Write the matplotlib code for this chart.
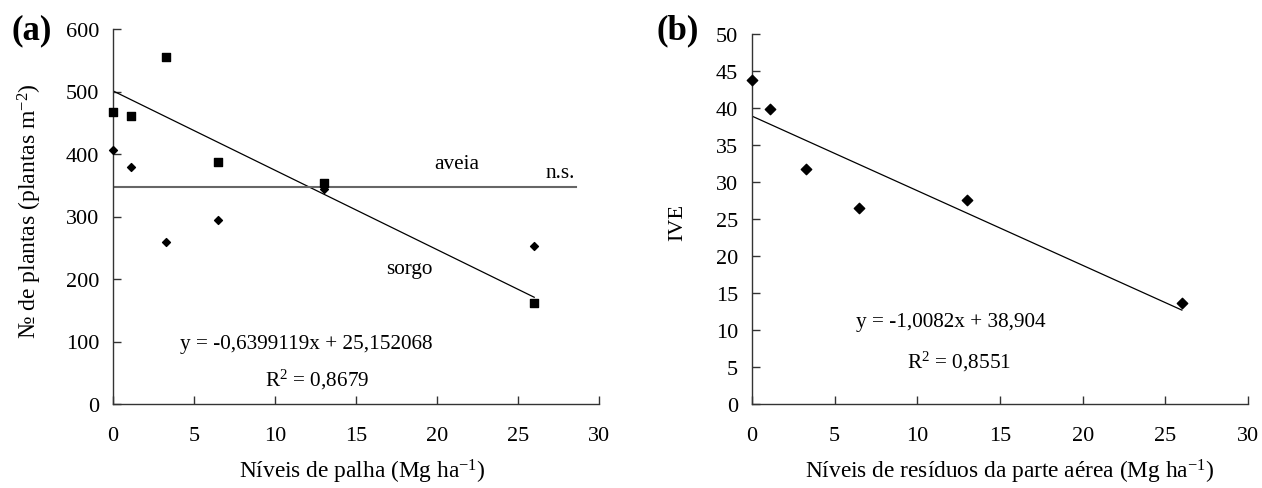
import matplotlib
matplotlib.use("Agg")
import matplotlib.pyplot as plt
import numpy as np

plt.rcParams['font.family'] = ['Liberation Serif', 'DejaVu Serif']
plt.rcParams['mathtext.default'] = 'regular'

# Panel (a)
xa = [0, 1.1, 3.25, 6.5, 13, 26]
sorgo = [467, 461, 555, 387, 354, 161]
aveia = [407, 380, 259, 294, 344, 253]
sorgo_int, sorgo_slope = 501, -12.7
aveia_mean = 348
aveia_line_x = [0, 28.6]

# Panel (b)
xb = [0, 1.1, 3.25, 6.5, 13, 26]
ive = [43.8, 39.8, 31.7, 26.5, 27.6, 13.6]
ive_int, ive_slope = 38.904, -1.0082

fig = plt.figure(figsize=(12.62, 4.89), dpi=100)
axa = fig.add_axes([113/1262, 1-405/489, (599-113)/1262, (405-30)/489])
axb = fig.add_axes([752/1262, 1-405/489, (1248-752)/1262, (405-35)/489])

tfs = 16
xfs = 16.8
afs = 15.3
for ax in (axa, axb):
    ax.spines['top'].set_visible(False)
    ax.spines['right'].set_visible(False)
    for s in ('left', 'bottom'):
        ax.spines[s].set_color('#333333')
        ax.spines[s].set_linewidth(1.0)
    ax.set_xlim(0, 30)
    ax.set_xticks([0, 5, 10, 15, 20, 25, 30])
    ax.tick_params(axis='both', direction='in', length=6, width=1, color='#333333', labelsize=tfs)
    ax.tick_params(axis='x', pad=16)
    ax.tick_params(axis='y', pad=10)

# (a)
axa.set_ylim(0, 600)
axa.set_yticks(range(0, 601, 100))
axa.scatter(xa, sorgo, marker='s', s=30, color='black', zorder=3, clip_on=False)
axa.scatter(xa, aveia, marker='D', s=16, color='black', zorder=3, clip_on=False)
xl = np.array([0, 26])
axa.plot(xl, sorgo_int + sorgo_slope * xl, color='black', lw=0.9)
axa.plot(aveia_line_x, [aveia_mean, aveia_mean], color='#666666', lw=1.5)
axa.text(21.2, 384, 'aveia', fontsize=afs, ha='center', va='center')
axa.text(27.6, 371, 'n.s.', fontsize=afs, ha='center', va='center')
axa.text(18.3, 216, 'sorgo', fontsize=afs, ha='center', va='center')
axa.text(11.9, 96, 'y = -0,6399119x + 25,152068', fontsize=afs, ha='center', va='center')
axa.text(12.6, 40, 'R$^{2}$ = 0,8679', fontsize=afs, ha='center', va='center')
yl = axa.set_ylabel('№ de plantas (plantas m$^{-2}$)', fontsize=17)
yl.set_verticalalignment('center')
axa.yaxis.set_label_coords((30-113)/486, (405-211)/375)
xla = axa.set_xlabel('Níveis de palha (Mg ha$^{-1}$)', fontsize=xfs)
xla.set_verticalalignment('center')
axa.xaxis.set_label_coords((362-113)/486, (405-472)/375)
fig.text(32/1262, 1-31/489, '(a)', fontsize=25, fontweight='bold', ha='center', va='center')

# (b)
axb.set_ylim(0, 50)
axb.set_yticks(range(0, 51, 5))
axb.scatter(xb, ive, marker='D', s=28, color='black', zorder=3, clip_on=False)
axb.plot(xl, ive_int + ive_slope * xl, color='black', lw=0.9)
axb.text(12.0, 11.2, 'y = -1,0082x + 38,904', fontsize=afs, ha='center', va='center')
axb.text(12.5, 5.8, 'R$^{2}$ = 0,8551', fontsize=afs, ha='center', va='center')
ylb = axb.set_ylabel('IVE', fontsize=16)
ylb.set_verticalalignment('center')
axb.yaxis.set_label_coords((678-752)/496, (405-222)/370)
xlb = axb.set_xlabel('Níveis de resíduos da parte aérea (Mg ha$^{-1}$)', fontsize=xfs)
xlb.set_verticalalignment('center')
axb.xaxis.set_label_coords((1010-752)/496, (405-472)/370)
fig.text(678/1262, 1-31/489, '(b)', fontsize=25, fontweight='bold', ha='center', va='center')

fig.savefig('out.png', dpi=100)
